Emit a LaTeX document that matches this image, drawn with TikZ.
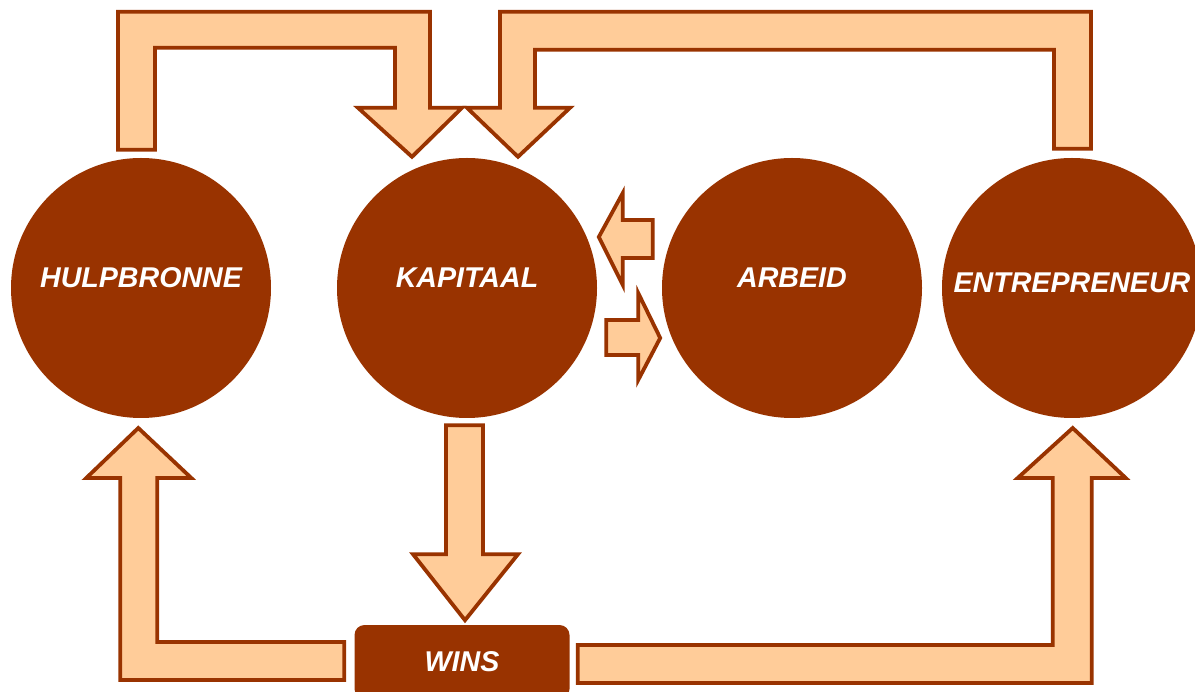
\documentclass[tikz,border=0pt]{standalone}
\usepackage{fontspec}
\setmainfont{Liberation Sans}
\definecolor{roest}{HTML}{993300}
\definecolor{perske}{HTML}{FFCC99}

\begin{document}
\begin{tikzpicture}[
    x = 1pt, y = -1pt,
    line join = miter,
    sirkel/.style = {circle, fill=roest, minimum size=260pt, inner sep=0pt,
                     text=white, font=\fontsize{28.6}{30}\selectfont\bfseries\itshape,
                     text height=20pt, text depth=20pt},
    winsblok/.style = {rectangle, rounded corners=10pt, fill=roest, text=white,
                       minimum width=215pt, minimum height=74pt,
                       font=\fontsize{28.6}{30}\selectfont\bfseries\itshape},
    vloei/.style = {line width=3.8pt, draw=roest, fill=perske}
]

\useasboundingbox (0,0) rectangle (1195,692);

\node[sirkel] (hulp) at (141,288) {HULPBRONNE};
\node[sirkel] (kap)  at (467,288) {KAPITAAL};
\node[sirkel] (arb)  at (792,288) {ARBEID};
\node[sirkel, text depth=10pt] (entr) at (1072,288) {ENTREPRENEUR};
\node[winsblok] (wins) at (462,662) {WINS};

% bo-pyle na kapitaal
\draw[vloei] (hulp.north) ++ (-23,-8) --++ (0,-138) --++ (312,0) --++ (0,96)
    --++ (32,0) --++ (-50,49) --++ (-54,-49) --++ (37,0) --++ (0,-60)
    --++ (-240,0) --++ (0,102) -- cycle;
\draw[vloei] (entr.north) ++ (19,-9) --++ (0,-137) --++ (-591,0) --++ (0,96)
    --++ (-33,0) --++ (51,49) --++ (52,-49) --++ (-35,0) --++ (0,-58)
    --++ (519,0) --++ (0,99) -- cycle;

% tussen kapitaal en arbeid
\draw[vloei] (arb.west) ++ (-9,-68) --++ (-30,0) --++ (0,-27) --++ (-24,44)
    --++ (24,48) --++ (0,-27) --++ (30,0) -- cycle;
\draw[vloei] (kap.east) ++ (9,32) --++ (32,0) --++ (0,-27) --++ (22,45)
    --++ (-22,42) --++ (0,-25) --++ (-32,0) -- cycle;

% kapitaal na wins
\draw[vloei] (kap.south) ++ (-21,7) --++ (37,0) --++ (0,129) --++ (35,0)
    --++ (-53,66) --++ (-52,-66) --++ (33,0) -- cycle;

% wins terug
\draw[vloei] (wins.west) ++ (-10,-20) --++ (-187,0) --++ (0,-164) --++ (34,0)
    --++ (-53,-50) --++ (-52,50) --++ (34,0) --++ (0,202) --++ (224,0) -- cycle;
\draw[vloei] (wins.east) ++ (8,-17) --++ (475,0) --++ (0,-167) --++ (-35,0)
    --++ (55,-50) --++ (53,50) --++ (-34,0) --++ (0,205) --++ (-514,0) -- cycle;

\end{tikzpicture}
\end{document}
